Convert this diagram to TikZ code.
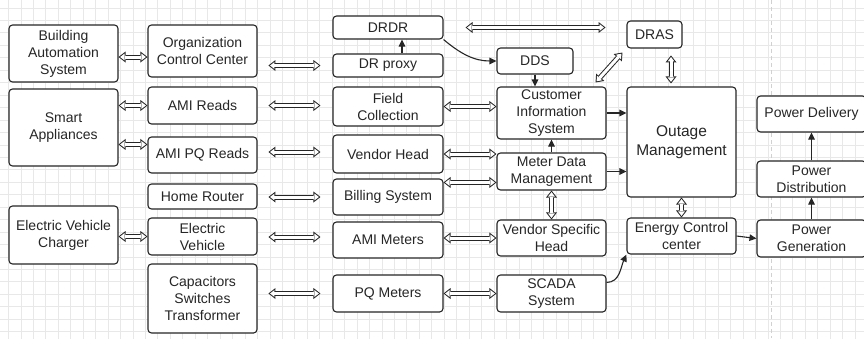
\documentclass[tikz,border=0pt]{standalone}
\usepackage{fontspec}
\setmainfont{Liberation Sans}
\usetikzlibrary{arrows.meta,calc}

\tikzset{
  box/.style={draw=black!85,line width=1.1pt,rounded corners=3.5pt,fill=white,align=center,inner sep=0pt,
    text=black!85,font=\fontsize{14}{17}\selectfont},
  flow/.style={draw=black!85,line width=1.1pt,-{Triangle[length=7pt,width=6.5pt]}},
  hollow/.style={draw=white,line width=3pt,shorten <=1.6pt,shorten >=1.6pt,
    {Triangle[length=4.4pt,width=6.9pt,line width=0pt]}-{Triangle[length=4.4pt,width=6.9pt,line width=0pt]},
    preaction={draw=black!85,line width=5pt,shorten <=0pt,shorten >=0pt,
    {Triangle[length=7pt,width=11pt,line width=0pt]}-{Triangle[length=7pt,width=11pt,line width=0pt]}}}
}

\begin{document}
\begin{tikzpicture}[x=1pt,y=-1pt]
\clip (0,0) rectangle (864,338);
\fill[white] (0,0) rectangle (864,338);
\draw[black!9,line width=0.5pt,shift={(8.3,7.8)},step=12.45pt] (-8.3,-7.8) grid (856,331); % paper grid
\draw[black!18,line width=0.9pt,dash pattern=on 4pt off 3pt] (771,0) -- (771,338);          % divider
% left column
\node[box,minimum width=109pt,minimum height=57pt] (bas) at (63.5,53.5) {Building\\Automation\\System};
\node[box,minimum width=109pt,minimum height=77pt] (smart) at (63.5,127.5) {Smart\\Appliances};
\node[box,minimum width=109pt,minimum height=58pt] (evc) at (63.5,235) {Electric Vehicle\\Charger};
% customer side
\node[box,minimum width=109pt,minimum height=52pt] (occ) at (202.5,51) {Organization\\Control Center};
\node[box,minimum width=109pt,minimum height=37pt] (amir) at (202.5,105.5) {AMI Reads};
\node[box,minimum width=109pt,minimum height=36pt] (amipq) at (202.5,155) {AMI PQ Reads};
\node[box,minimum width=109pt,minimum height=25pt] (router) at (202.5,196.5) {Home Router};
\node[box,minimum width=109pt,minimum height=37pt] (ev) at (202.5,236.5) {Electric\\Vehicle};
\node[box,minimum width=109pt,minimum height=69pt] (cst) at (202.5,298.5) {Capacitors\\Switches\\Transformer};
% field side
\node[box,minimum width=110pt,minimum height=23pt] (drdr) at (388,27.5) {DRDR};
\node[box,minimum width=110pt,minimum height=23pt] (proxy) at (388,65.5) {DR proxy};
\node[box,minimum width=110pt,minimum height=39pt] (field) at (388,106.5) {Field\\Collection};
\node[box,minimum width=110pt,minimum height=38pt] (vhead) at (388,154) {Vendor Head};
\node[box,minimum width=110pt,minimum height=36pt] (bill) at (388,197) {Billing System};
\node[box,minimum width=110pt,minimum height=36pt] (amim) at (388,240) {AMI Meters};
\node[box,minimum width=110pt,minimum height=37pt] (pqm) at (388,293.5) {PQ Meters};
% head end
\node[box,minimum width=76pt,minimum height=26pt] (dds) at (535,61) {DDS};
\node[box,minimum width=109pt,minimum height=52pt] (cis) at (551.5,113) {Customer\\Information\\System};
\node[box,minimum width=109pt,minimum height=37pt] (mdm) at (551.5,171.5) {Meter Data\\Management};
\node[box,minimum width=109pt,minimum height=36pt] (vsh) at (551.5,238) {Vendor Specific\\Head};
\node[box,minimum width=109pt,minimum height=37pt] (scada) at (551.5,293.5) {SCADA\\System};
% utility
\node[box,minimum width=55pt,minimum height=27pt] (dras) at (654.5,34.5) {DRAS};
\node[box,minimum width=109pt,minimum height=110pt,font=\fontsize{15.5}{19}\selectfont] (outage) at (681.5,142) {Outage\\Management};
\node[box,minimum width=109pt,minimum height=36pt] (ecc) at (681.5,236) {Energy Control\\center};
% power
\node[box,minimum width=109pt,minimum height=36pt] (pdel) at (811.5,114) {Power Delivery};
\node[box,minimum width=109pt,minimum height=36pt] (pdist) at (811.5,179) {Power\\Distribution};
\node[box,minimum width=109pt,minimum height=37pt] (pgen) at (811.5,238.5) {Power\\Generation};
% two-way links
\draw[hollow] ($(bas.east)+(0,3.5)$) -- ($(occ.west |- bas.east)+(0,3.5)$);
\draw[hollow] (smart.east |- amir) -- (amir.west);
\draw[hollow] ($(smart.east |- amipq.north)+(0,8)$) -- ($(amipq.north west)+(0,8)$);
\draw[hollow] (evc.east |- ev) -- (ev.west);
\draw[hollow] ($(proxy.west)+(-64,0)$) -- ($(proxy.west)+(-12,0)$);
\draw[hollow] ($(field.west)+(-64,-1)$) -- ($(field.west)+(-12,-1)$);
\draw[hollow] ($(vhead.west)+(-64,-2)$) -- ($(vhead.west)+(-12,-2)$);
\draw[hollow] ($(bill.west)+(-64,0)$) -- ($(bill.west)+(-12,0)$);
\draw[hollow] ($(amim.west)+(-64,-3)$) -- ($(amim.west)+(-12,-3)$);
\draw[hollow] ($(pqm.west)+(-64,0)$) -- ($(pqm.west)+(-12,0)$);
\draw[hollow] (field.east) -- (field.east -| cis.west);
\draw[hollow] (vhead.east) -- (vhead.east -| mdm.west);
\draw[hollow] ($(bill.north east)+(0,4)$) -- ($(mdm.west |- bill.north)+(0,4)$);
\draw[hollow] (amim.east |- vsh) -- (vsh.west);
\draw[hollow] (pqm.east) -- (scada.west);
\draw[hollow] ($(drdr.east)+(22,0)$) -- ($(drdr.east)+(162,0)$);
\draw[hollow] ($(cis.north east)+(-11,-4)$) -- ($(dras.south west)+(-4,4)$);
\draw[hollow] ($(outage.north)+(-10.5,-3)$) -- ($(outage.north)+(-10.5,-31)$);
\draw[hollow] (mdm.south) -- (vsh.north);
\draw[hollow] (outage.south) -- (ecc.north);
% one-way links
\draw[flow] ([xshift=14pt]proxy.north) -- ([xshift=14pt]drdr.south);
\draw[flow] (drdr.south east) to[out=-40,in=180] (dds.west);
\draw[flow] (dds.south) -- (dds.south |- cis.north);
\draw[flow] (mdm.north) -- (cis.south);
\draw[flow] (cis.east) -- (cis.east -| outage.west);
\draw[flow] (mdm.east) -- (mdm.east -| outage.west);
\draw[flow] ($(scada.north east)+(0,8)$) to[out=0,in=-115] (ecc.south west);
\draw[flow] (ecc.east) -- (pgen.west);
\draw[flow] (pgen.north) -- (pdist.south);
\draw[flow] (pdist.north) -- (pdel.south);
\end{tikzpicture}
\end{document}
